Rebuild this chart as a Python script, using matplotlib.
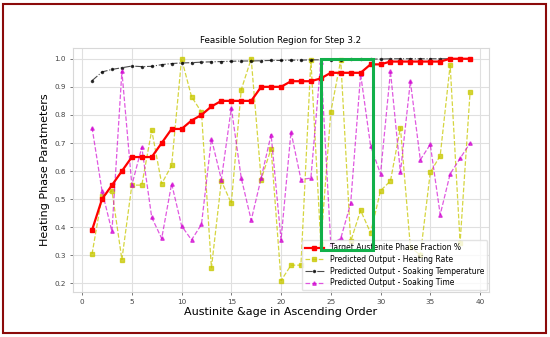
import matplotlib
matplotlib.use("Agg")
import matplotlib.pyplot as plt
from matplotlib.patches import Rectangle

x = list(range(1, 40))

target = [0.39, 0.50, 0.55, 0.60, 0.65, 0.65, 0.65, 0.70, 0.75, 0.75,
          0.78, 0.80, 0.83, 0.85, 0.85, 0.85, 0.85, 0.90, 0.90, 0.90,
          0.92, 0.92, 0.92, 0.93, 0.95, 0.95, 0.95, 0.95, 0.98, 0.98,
          0.99, 0.99, 0.99, 0.99, 0.99, 0.99, 1.00, 1.00, 1.00]

heating_rate = [0.305, 0.51, 0.53, 0.285, 0.55, 0.55, 0.745, 0.555, 0.62, 1.00,
                0.865, 0.81, 0.255, 0.565, 0.485, 0.89, 1.00, 0.57, 0.68, 0.21,
                0.265, 0.265, 0.995, 0.34, 0.81, 0.995, 0.35, 0.46, 0.38, 0.53,
                0.565, 0.755, 0.33, 0.30, 0.595, 0.655, 0.978, 0.345, 0.88]

soak_temp = [0.922, 0.953, 0.962, 0.968, 0.974, 0.972, 0.973, 0.979, 0.983, 0.985,
             0.986, 0.988, 0.989, 0.990, 0.991, 0.992, 0.992, 0.993, 0.994, 0.994,
             0.995, 0.995, 0.996, 0.996, 0.997, 0.997, 0.998, 0.998, 0.999, 0.999,
             1.0, 1.0, 1.0, 1.0, 1.0, 1.0, 1.0, 1.0, 1.0]

soak_time = [0.755, 0.53, 0.385, 0.955, 0.55, 0.685, 0.435, 0.36, 0.555, 0.405,
             0.355, 0.41, 0.715, 0.57, 0.825, 0.575, 0.425, 0.575, 0.73, 0.355,
             0.74, 0.57, 0.575, 0.99, 0.34, 0.36, 0.485, 0.945, 0.69, 0.59,
             0.955, 0.595, 0.92, 0.64, 0.695, 0.445, 0.59, 0.645, 0.70]

labels = ["Target Austenite Phase Fraction %",
          "Predicted Output - Heating Rate",
          "Predicted Output - Soaking Temperature",
          "Predicted Output - Soaking Time"]

region_x = [24, 29.2]
region_y = [0.318, 1.0]

fig = plt.figure(figsize=(5.5, 3.37), dpi=100)
ax = fig.add_axes([0.133, 0.134, 0.756, 0.725])

ax.plot(x, target, '-s', color='red', lw=1.6, ms=3, label=labels[0], zorder=4)
ax.plot(x, heating_rate, '--s', color='#c8c800', alpha=0.75, lw=0.9, ms=3, label=labels[1], zorder=3)
ax.plot(x, soak_temp, '-.o', color='black', alpha=0.7, lw=0.8, ms=1.5, label=labels[2], zorder=3)
ax.plot(x, soak_time, '--^', color='#d000d0', alpha=0.65, lw=0.9, ms=2.5, label=labels[3], zorder=3)

ax.set_xlim(-0.9, 40.9)
ax.set_ylim(0.17, 1.04)
ax.set_xticks([0, 5, 10, 15, 20, 25, 30, 35, 40])
ax.set_yticks([0.2, 0.3, 0.4, 0.5, 0.6, 0.7, 0.8, 0.9, 1.0])
ax.grid(True, color='#e0e0e0', lw=0.8)
ax.set_axisbelow(True)
for s in ax.spines.values():
    s.set_color('#d8d8d8')
    s.set_linewidth(0.8)
ax.tick_params(labelsize=5.2, colors='#444444', length=2, width=0.5)

ax.set_title("Feasible Solution Region for Step 3.2", fontsize=6.3, pad=3)
ax.set_xlabel("Austinite &age in Ascending Order", fontsize=8, labelpad=1)
ax.set_ylabel("Heating Phase Paratmeters", fontsize=8, labelpad=3)

leg = ax.legend(loc='lower right', fontsize=5.5, frameon=True, borderaxespad=0.2,
                handlelength=2.5, labelspacing=0.35)
leg.get_frame().set_edgecolor('#dddddd')

rect = Rectangle((region_x[0], region_y[0]), region_x[1] - region_x[0],
                 region_y[1] - region_y[0], fill=False, edgecolor='#12b04a',
                 lw=2.2, zorder=10)
ax.add_patch(rect)

border = Rectangle((0.006, 0.012), 0.986, 0.976, transform=fig.transFigure,
                   fill=False, edgecolor='#8b0a0a', lw=1.5)
fig.patches.append(border)

fig.savefig("out.png", dpi=100)
